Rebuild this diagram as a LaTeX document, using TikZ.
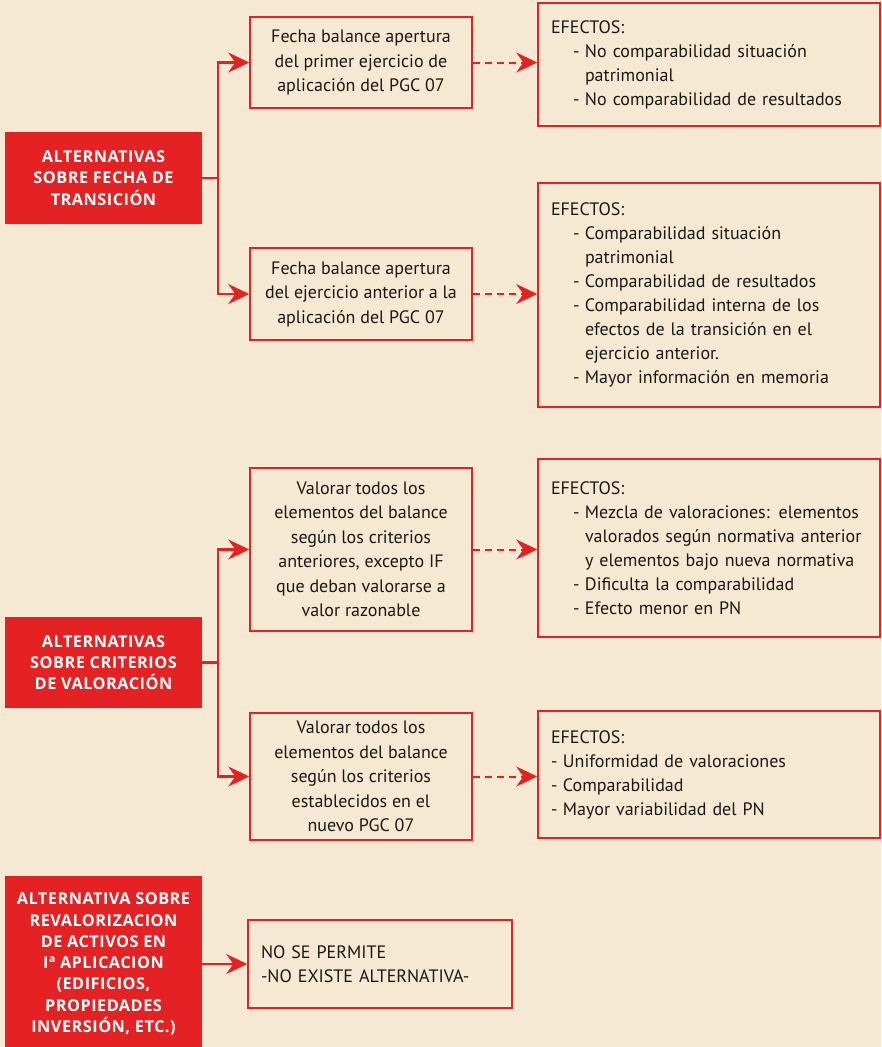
\documentclass[tikz,border=0pt]{standalone}
\usepackage{fontspec}
\setmainfont{PT Sans}
\newfontfamily\redfont[LetterSpace=3]{Open Sans}
\usetikzlibrary{arrows.meta}
\definecolor{bgc}{RGB}{245,233,212}
\definecolor{redc}{RGB}{228,34,36}
\definecolor{txtc}{RGB}{28,24,20}
\newcommand{\effitem}[1]{\hspace*{22pt}\makebox[12pt][l]{-}#1}
\newcommand{\effcont}[1]{\hspace*{34pt}#1}
\newcommand{\flatitem}[1]{\makebox[12pt][l]{-}#1}
\tikzset{
  redbox/.style={fill=redc, text=white, font=\redfont\bfseries\fontsize{16.3}{21.3}\selectfont, align=center, minimum width=197pt, inner sep=0pt},
  optbox/.style={draw=redc, line width=1.5pt, text=txtc, font=\fontsize{18}{24.5}\selectfont, align=center, minimum width=222pt, inner sep=0pt},
  effbox/.style={draw=redc, line width=1.5pt, text=txtc, font=\fontsize{18}{24}\selectfont, align=left, text width=316pt, inner xsep=13pt, inner ysep=0pt},
  conn/.style={draw=redc, line width=2.2pt},
  arr/.style={conn, -{Stealth[length=21pt, width=20pt, inset=7pt]}},
  darr/.style={draw=redc, line width=2pt, dash pattern=on 7pt off 5pt, -{Stealth[length=21pt, width=20pt, inset=7pt]}}
}
\begin{document}
\begin{tikzpicture}[x=1pt, y=-1pt]
\fill[bgc] (0,0) rectangle (881,1047);
\useasboundingbox (0,0) rectangle (881,1047);
\coordinate (t) at (218,0);

% Section 1
\node[redbox, minimum height=92pt] (r1) at (103.5,178) {ALTERNATIVAS\\SOBRE FECHA DE\\TRANSICIÓN};
\node[optbox, minimum height=91pt] (a1) at (361,62.5) {Fecha balance apertura\\del primer ejercicio de\\aplicación del PGC 07};
\node[optbox, minimum height=92pt] (a2) at (361,294) {Fecha balance apertura\\del ejercicio anterior a la\\aplicación del PGC 07};
\node[effbox, minimum height=123pt] (e1) at (709,64.5) {EFECTOS:\\
\effitem{No comparabilidad situación}\\
\effcont{patrimonial}\\
\effitem{No comparabilidad de resultados}};
\node[effbox, minimum height=224pt] (e2) at (709,295) {EFECTOS:\\
\effitem{Comparabilidad situación}\\
\effcont{patrimonial}\\
\effitem{Comparabilidad de resultados}\\
\effitem{Comparabilidad interna de los}\\
\effcont{efectos de la transición en el}\\
\effcont{ejercicio anterior.}\\
\effitem{Mayor información en memoria}};
\draw[conn] (r1.east) -- (r1.east -| t);
\draw[arr] (r1.east -| t) |- (a1.west);
\draw[arr] (r1.east -| t) |- (a2.west);
\draw[darr] (a1.east) -- (a1.east -| e1.west);
\draw[darr] (a2.east) -- (a2.east -| e2.west);

% Section 2
\node[redbox, minimum height=91pt] (r2) at (103.5,662.5) {ALTERNATIVAS\\SOBRE CRITERIOS\\DE VALORACIÓN};
\node[optbox, minimum height=163pt] (b1) at (361,549.5) {Valorar todos los\\elementos del balance\\según los criterios\\anteriores, excepto IF\\que deban valorarse a\\valor razonable};
\node[optbox, minimum height=127pt] (b2) at (361,776.5) {Valorar todos los\\elementos del balance\\según los criterios\\establecidos en el\\nuevo PGC 07};
\node[effbox, minimum height=178pt] (e3) at (709,548) {EFECTOS:\\
\effitem{Mezcla de valoraciones: elementos}\\
\effcont{valorados según normativa anterior}\\
\effcont{y elementos bajo nueva normativa}\\
\effitem{Dificulta la comparabilidad}\\
\effitem{Efecto menor en PN}};
\node[effbox, minimum height=127pt] (e4) at (709,774.5) {EFECTOS:\\
\flatitem{Uniformidad de valoraciones}\\
\flatitem{Comparabilidad}\\
\flatitem{Mayor variabilidad del PN}};
\draw[conn] (r2.east) -- (r2.east -| t);
\draw[arr] (r2.east -| t) |- (b1.west);
\draw[arr] (r2.east -| t) |- (b2.west);
\draw[darr] (b1.east) -- (b1.east -| e3.west);
\draw[darr] (b2.east) -- (b2.east -| e4.west);

% Section 3
\node[redbox, minimum height=176pt] (r3) at (103.5,964) {ALTERNATIVA SOBRE\\REVALORIZACION\\DE ACTIVOS EN\\Iª APLICACION\\(EDIFICIOS,\\PROPIEDADES\\INVERSIÓN, ETC.)};
\node[effbox, text width=238pt, minimum height=88pt] (c1) at (380,964) {NO SE PERMITE\\-NO EXISTE ALTERNATIVA-};
\draw[arr] (r3.east) -- (c1.west);
\end{tikzpicture}
\end{document}
